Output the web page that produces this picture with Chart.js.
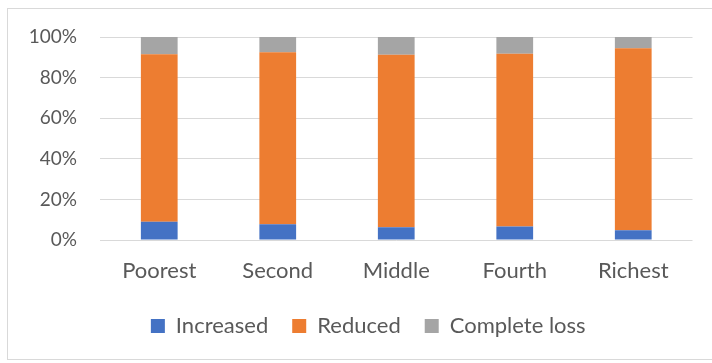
<!DOCTYPE html>
<html>
<head>
<meta charset="utf-8">
<script src="https://cdn.jsdelivr.net/npm/chart.js@4/dist/chart.umd.min.js"></script>
<style>
  html, body { margin: 0; padding: 0; background: #fff; }
  #wrap { position: relative; width: 712px; height: 363px; overflow: hidden; }
  #frame { position: absolute; left: 7px; top: 8px; width: 740px; height: 352px;
           border: 1px solid #d9d9d9; box-sizing: border-box; pointer-events: none; }
  canvas { position: absolute; left: 0; top: 0; }
</style>
</head>
<body>
<div id="wrap">
  <canvas id="c" width="712" height="363"></canvas>
  <div id="frame"></div>
</div>
<script>
// Wealth quintiles and the share of households in each outcome group (%)
const categories = ['Poorest', 'Second', 'Middle', 'Fourth', 'Richest'];
const increased    = [9.0, 7.7, 6.3, 6.6, 4.8];
const reduced      = [82.5, 84.8, 85.0, 85.2, 89.6];
const completeLoss = [8.5, 7.5, 8.7, 8.2, 5.6];
const yTicks = [0, 20, 40, 60, 80, 100];

const textColor = '#595959';
const fontFamily = 'Lato, "Open Sans", sans-serif';

// Nudge the legend row sideways so it sits under the whole frame
const legendShift = {
  id: 'legendShift',
  afterLayout(chart) {
    const lg = chart.legend;
    if (lg) { lg.left += 12; lg.right += 12; }
  }
};

new Chart(document.getElementById('c'), {
  type: 'bar',
  data: {
    labels: categories,
    datasets: [
      { label: 'Increased', data: increased, backgroundColor: '#4472C4' },
      { label: 'Reduced', data: reduced, backgroundColor: '#ED7D31' },
      { label: 'Complete loss', data: completeLoss, backgroundColor: '#A5A5A5' }
    ]
  },
  plugins: [legendShift],
  options: {
    responsive: false,
    animation: false,
    layout: { padding: { left: 20, right: 19.5, top: 37, bottom: 16 } },
    datasets: { bar: { categoryPercentage: 1.0, barPercentage: 0.31 } },
    plugins: {
      tooltip: { enabled: false },
      legend: {
        position: 'bottom',
        labels: {
          color: textColor,
          font: { family: fontFamily, size: 22 },
          boxWidth: 14,
          boxHeight: 14,
          padding: 24
        }
      }
    },
    scales: {
      x: {
        stacked: true,
        grid: { display: false },
        border: { display: false },
        ticks: { color: textColor, font: { family: fontFamily, size: 22 }, padding: 10 },
        afterFit: s => { s.height = 51; }
      },
      y: {
        stacked: true,
        min: 0,
        max: 100,
        afterBuildTicks: s => { s.ticks = yTicks.map(v => ({ value: v })); },
        grid: { color: '#d9d9d9', lineWidth: 1, drawTicks: false },
        border: { display: false },
        ticks: {
          color: textColor,
          font: { family: fontFamily, size: 19 },
          padding: 23,
          callback: v => v + '%'
        },
        afterFit: s => { s.width = 80; }
      }
    }
  }
});
</script>
</body>
</html>
